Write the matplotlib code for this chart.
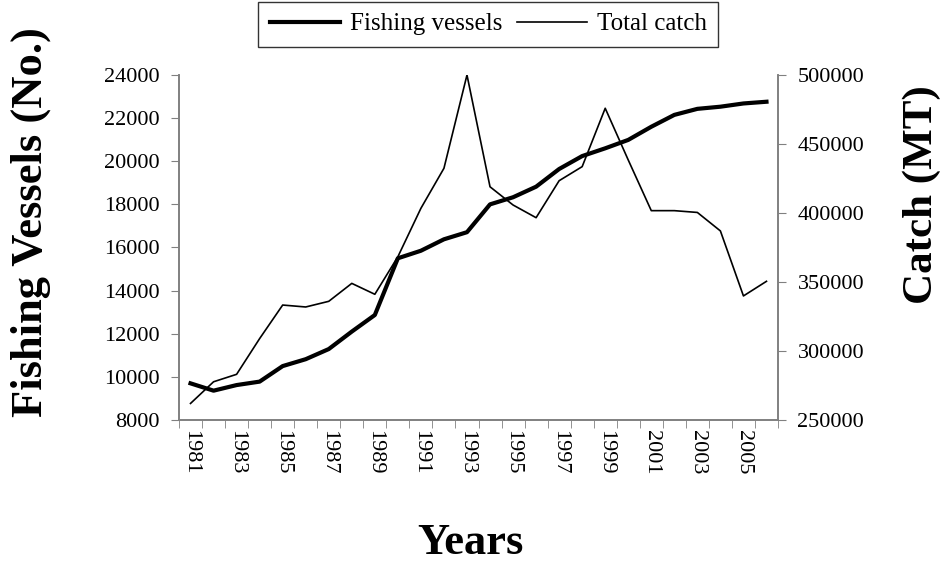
import numpy as np
import matplotlib.pyplot as plt

plt.rcParams['font.family'] = ['Liberation Serif', 'DejaVu Serif']

years = list(range(1981, 2007))
vessels = [9700, 9360, 9620, 9780, 10500, 10820, 11290, 12100, 12870, 15500,
           15850, 16380, 16710, 18000, 18330, 18820, 19640, 20240, 20600, 20990,
           21600, 22150, 22430, 22530, 22680, 22760]
catch = [262000, 277700, 283100, 309000, 333300, 331900, 336000, 349000, 341100, 368300,
         403400, 432400, 500000, 419000, 405800, 396600, 423400, 433600, 475900, 438400,
         401700, 401700, 400400, 387000, 339900, 350500]
vessel_ticks = list(range(8000, 24001, 2000))
catch_ticks = list(range(250000, 500001, 50000))

grey = '#808080'

fig = plt.figure(figsize=(9.48, 5.63), dpi=100)
ax = fig.add_axes([179/948, 1 - 420/563, 599/948, 345/563])
ax2 = ax.twinx()

x = np.arange(len(years))
l1, = ax.plot(x, vessels, color='black', lw=3.0, solid_joinstyle='round')
l2, = ax2.plot(x, catch, color='black', lw=1.2)

ax.set_xlim(-0.5, len(years) - 0.5)
ax.set_ylim(vessel_ticks[0], vessel_ticks[-1])
ax2.set_ylim(catch_ticks[0], catch_ticks[-1])
ax.set_yticks(vessel_ticks)
ax.set_yticklabels([str(v) for v in vessel_ticks])
ax2.set_yticks(catch_ticks)
ax2.set_yticklabels([str(v) for v in catch_ticks])

# labels at category centres, ticks at the boundaries
ax.set_xticks(x[::2])
ax.set_xticklabels([str(y) for y in years[::2]], rotation=-90)
ax.set_xticks(np.arange(-0.5, len(years), 1), minor=True)
ax.tick_params(axis='x', which='major', length=0, labelsize=16, pad=7)
ax.tick_params(axis='x', which='minor', length=6, color=grey, direction='out')
ax.tick_params(axis='y', length=6, color=grey, labelsize=16, pad=8)
ax2.tick_params(axis='y', length=6, color=grey, labelsize=16, pad=8)

for a in (ax, ax2):
    a.spines['top'].set_visible(False)
    for s in ('left', 'right', 'bottom'):
        a.spines[s].set_color(grey)
        a.spines[s].set_linewidth(1.2)

fig.text(0.496, 0.036, 'Years', ha='center', va='center', fontsize=32, fontweight='bold')
fig.text(0.032, 0.606, 'Fishing Vessels (No.)', ha='center', va='center',
         rotation=90, fontsize=32, fontweight='bold')
fig.text(0.972, 0.655, 'Catch (MT)', ha='center', va='center',
         rotation=90, fontsize=31, fontweight='bold')

leg = fig.legend([l1, l2], ['Fishing vessels', 'Total catch'], loc='center',
                 bbox_to_anchor=(0.515, 0.957), ncol=2, fontsize=18, frameon=True,
                 fancybox=False, edgecolor='black', handlelength=2.8,
                 columnspacing=0.6, handletextpad=0.4, borderpad=0.45)
leg.get_frame().set_linewidth(1.0)

fig.savefig('out.png', dpi=100)
